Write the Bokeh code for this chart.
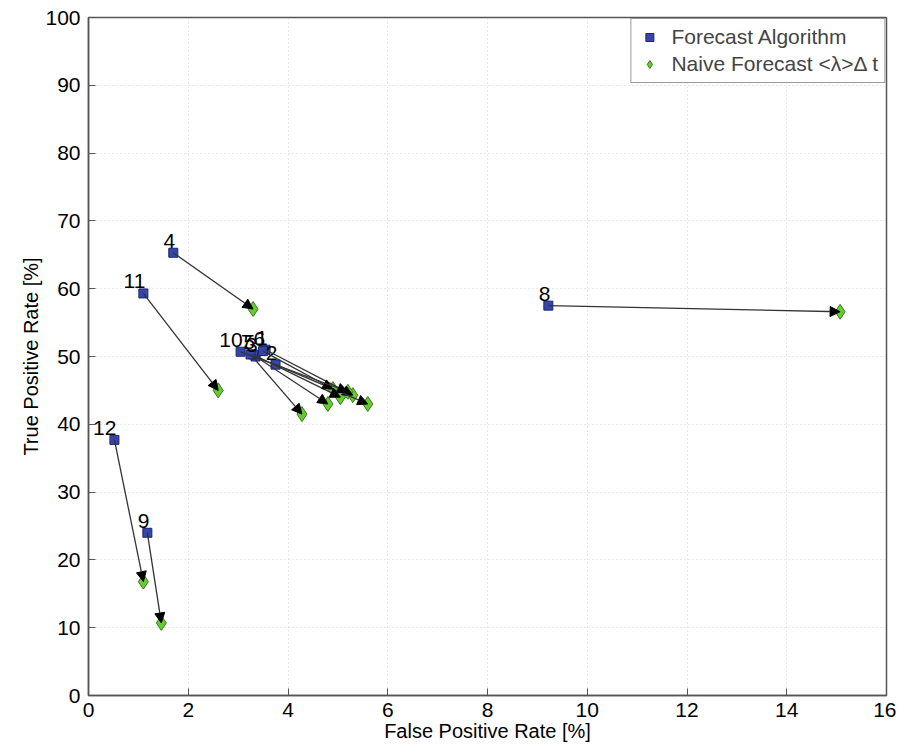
from bokeh.plotting import figure
from bokeh.models import ColumnDataSource, Arrow, NormalHead, Legend, LegendItem, FixedTicker, Range1d
from bokeh.core.properties import value
from bokeh.embed import file_html
from bokeh.resources import INLINE

labels = ["1", "2", "3", "4", "5", "6", "7", "8", "9", "10", "11", "12"]
algo_fpr = [3.55, 3.75, 3.35, 1.70, 3.30, 3.50, 3.25, 9.22, 1.18, 3.05, 1.10, 0.52]
algo_tpr = [51.0, 48.8, 50.0, 65.3, 50.3, 50.8, 50.3, 57.5, 24.0, 50.7, 59.3, 37.7]
naive_fpr = [5.30, 5.60, 4.80, 3.30, 5.05, 4.90, 4.28, 15.07, 1.46, 5.20, 2.60, 1.10]
naive_tpr = [44.3, 43.0, 43.0, 57.0, 44.0, 45.2, 41.5, 56.6, 10.7, 44.8, 45.0, 16.8]

FONT = "Liberation Sans"

src = ColumnDataSource(dict(x0=algo_fpr, y0=algo_tpr, x1=naive_fpr, y1=naive_tpr, lab=labels))

p = figure(width=896, height=745, output_backend="svg", toolbar_location=None,
           x_range=Range1d(0, 16), y_range=Range1d(0, 100),
           min_border_left=88, min_border_right=10, min_border_top=17, min_border_bottom=50)
p.background_fill_color = "white"
p.outline_line_color = "#555555"
p.outline_line_width = 1.5

for ax in (p.xaxis[0], p.yaxis[0]):
    ax.major_tick_in = 7
    ax.major_tick_out = 0
    ax.minor_tick_line_color = None
    ax.major_label_text_font = FONT
    ax.major_label_text_font_size = "21px"
    ax.major_label_text_color = "black"
    ax.axis_label_text_font = FONT
    ax.axis_label_text_font_size = "20px"
    ax.axis_label_text_font_style = "normal"
    ax.axis_label_text_color = "black"
    ax.axis_line_color = "#555555"
    ax.axis_line_width = 1.5
    ax.major_tick_line_color = "#555555"

p.xaxis[0].ticker = FixedTicker(ticks=list(range(0, 17, 2)))
p.yaxis[0].ticker = FixedTicker(ticks=list(range(0, 101, 10)))
p.xaxis.axis_label = "False Positive Rate [%]"
p.yaxis.axis_label = "True Positive Rate [%]"
p.xaxis.axis_label_standoff = 0
p.yaxis.axis_label_standoff = 0
p.xaxis.major_label_standoff = 7
p.yaxis.major_label_standoff = 8

p.grid.grid_line_color = "#d0d0d0"
p.grid.grid_line_dash = "1 3"
p.grid.grid_line_width = 1

arrows = Arrow(end=NormalHead(size=10, fill_color="black", line_color="black"),
               x_start="x0", y_start="y0", x_end="x1", y_end="y1",
               source=src, line_color="#333333", line_width=1.3)
p.add_layout(arrows)

r_naive = p.scatter("x1", "y1", source=src, marker="diamond", size=15,
                    fill_color="#66cc33", line_color="#3a7a1a", line_width=1)
r_algo = p.scatter("x0", "y0", source=src, marker="square", size=9,
                   fill_color="#3546a8", line_color="#1c2670", line_width=1)

p.text("x0", "y0", text="lab", source=src, text_align="right", text_baseline="bottom",
       x_offset=2, y_offset=-5, text_font=value(FONT), text_font_size="21px", text_color="black")

legend = Legend(items=[LegendItem(label="Forecast Algorithm", renderers=[r_algo]),
                       LegendItem(label="Naive Forecast <λ>Δ t", renderers=[r_naive])],
                location="top_right", label_text_font=FONT, label_text_font_size="21px",
                border_line_color="#333333", border_line_width=1.2,
                background_fill_alpha=1, spacing=3, padding=6, margin=1,
                glyph_width=24, label_standoff=10)
p.add_layout(legend)

open("out.html", "w").write(file_html(p, INLINE))
